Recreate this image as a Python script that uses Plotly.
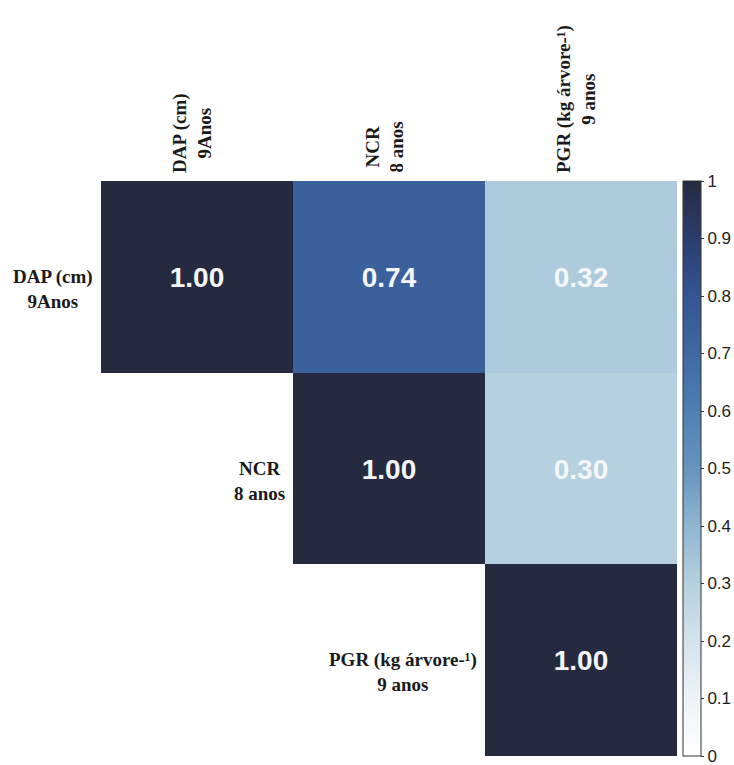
import plotly.graph_objects as go

labels = ["DAP (cm)<br>9Anos", "NCR<br>8 anos", "PGR (kg árvore-¹)<br>9 anos"]
row1 = [1.00, 0.74, 0.32]
row2 = [None, 1.00, 0.30]
row3 = [None, None, 1.00]
z = [row1, row2, row3]
tick_start = 0
tick_step = 0.1

colorscale = [
    [0.0, "#ffffff"], [0.1, "#edf3f7"], [0.2, "#d3e3ec"], [0.3, "#b5d0df"],
    [0.4, "#8fb6d1"], [0.5, "#6795bf"], [0.6, "#4e80b1"], [0.7, "#3f69a3"],
    [0.8, "#345592"], [0.9, "#2c3d6c"], [1.0, "#262a41"],
]

idx = list(range(len(labels)))
text = [[("" if v is None else f"{v:.2f}") for v in r] for r in z]

fig = go.Figure(go.Heatmap(
    z=z, x=idx, y=idx, zmin=0, zmax=1, colorscale=colorscale,
    text=text, texttemplate="<b>%{text}</b>",
    textfont=dict(family="Liberation Sans, Arial", size=28, color="#f4f6fa"),
    hoverongaps=False,
    colorbar=dict(
        x=1.01, xanchor="left", y=0.5, yanchor="middle", len=1.0, lenmode="fraction",
        thickness=18, outlinewidth=1, outlinecolor="#333333", xpad=0, ypad=0,
        tickmode="linear", tick0=tick_start, dtick=tick_step, ticks="outside", ticklen=3,
        ticklabeloverflow="allow",
        tickcolor="#333333", tickfont=dict(family="Liberation Sans, Arial", size=17, color="#222222"),
    ),
))

annotations = []
lab_font = dict(family="Liberation Serif, Times New Roman", size=19, color="#1a1a1a")
for i, lab in enumerate(labels):
    annotations.append(dict(
        x=idx[i], y=1.0, xref="x", yref="paper", yanchor="bottom", xanchor="center",
        text=f"<b>{lab}</b>", textangle=-90, showarrow=False, font=lab_font,
        yshift=6, xshift=-5, align="center",
    ))
    annotations.append(dict(
        x=idx[i] - 0.5, y=idx[i], xref="x", yref="y", xanchor="right", yanchor="middle",
        text=f"<b>{lab}</b>", showarrow=False, font=lab_font, xshift=-6, yshift=-12,
        align="center",
    ))

fig.update_layout(
    width=734, height=765,
    margin=dict(l=101, r=57, t=181, b=9, autoexpand=False),
    paper_bgcolor="white", plot_bgcolor="white",
    xaxis=dict(range=[-0.5, 2.5], showticklabels=False, showgrid=False, zeroline=False, ticks=""),
    yaxis=dict(range=[2.5, -0.5], showticklabels=False, showgrid=False, zeroline=False, ticks=""),
    annotations=annotations,
)

fig.write_html("out.html")
